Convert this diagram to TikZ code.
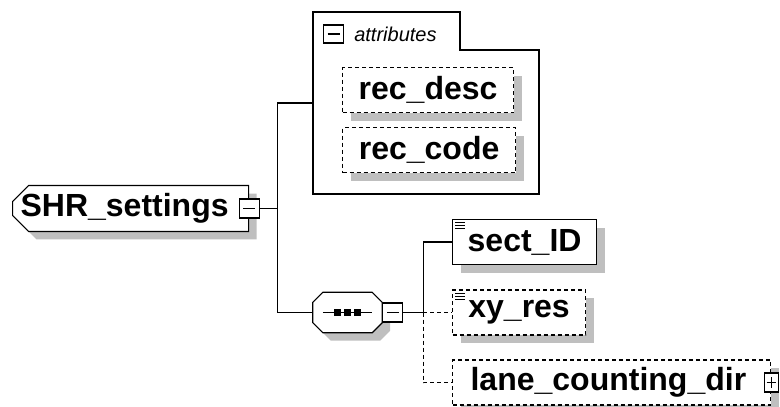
\documentclass[tikz,border=0pt]{standalone}
\usepackage{fontspec}
\setmainfont{Liberation Sans}
\usetikzlibrary{shapes.misc}
\usetikzlibrary{shadows}
\tikzset{boxshadow/.style={drop shadow={shadow xshift=8pt,shadow yshift=-8pt,fill=black!25,opacity=1}}}
\tikzset{elem/.style={draw, line width=1.2pt, fill=white, boxshadow, anchor=west,
	font=\fontsize{32}{38}\selectfont\bfseries, minimum height=45pt, inner sep=0pt}}
\tikzset{optional/.style={dash pattern=on 4pt off 3pt}}
\tikzset{link/.style={line width=1.2pt}}
\tikzset{expander/.style={draw, line width=1.2pt, fill=white, minimum width=20pt, minimum height=19pt, inner sep=0pt,
	path picture={\draw[line width=1.2pt] ([xshift=4pt]path picture bounding box.west) -- ([xshift=-4pt]path picture bounding box.east);}}}
\tikzset{expandplus/.style={draw, line width=1.2pt, fill=white, minimum width=14pt, minimum height=19pt, inner sep=0pt,
	path picture={\draw[line width=1.2pt] ([xshift=2.5pt]path picture bounding box.west) -- ([xshift=-2.5pt]path picture bounding box.east);
		\draw[line width=1.2pt] ([yshift=-4pt]path picture bounding box.north) -- ([yshift=4pt]path picture bounding box.south);}}}

\begin{document}
\begin{tikzpicture}[x=1pt, y=-1pt]
		\useasboundingbox (0,0) rectangle (780,407);

		% Root element
		\node[elem, chamfered rectangle, chamfered rectangle corners={north west,south west},
			chamfered rectangle xsep=8pt, chamfered rectangle ysep=8pt,
			text width=220pt, align=left] (shr) at (12,208.5) {SHR\_settings};
		\node[expander] (shrx) at (shr.east) {};

		% Attribute group
		\draw[link] (313,12) -- (460,12) -- (460,50) -- (539,50) -- (539,194) -- (313,194) -- cycle;
		\coordinate (attrin) at (313,103);
		\node[expander, minimum height=18pt] (attrx) at (333.5,34) {};
		\node[anchor=west, inner sep=0pt, font=\fontsize{20}{24}\selectfont\itshape] (attrlbl) at (attrx.east) [xshift=10pt] {attributes};
		\node[elem, optional, minimum width=171pt] (recdesc) at (342,90) {rec\_desc};
		\node[elem, optional, minimum width=173pt] (reccode) at (342,150) {rec\_code};

		% Sequence
		\node[minimum width=69pt, minimum height=40pt, inner sep=0pt] (seq) at (347.5,312.5) {};
		\draw[link, fill=white, boxshadow] ([xshift=10pt]seq.north west) -- ([xshift=-10pt]seq.north east)
			-- ([yshift=-10pt]seq.north east) -- ([yshift=10pt]seq.south east) -- ([xshift=-10pt]seq.south east)
			-- ([xshift=10pt]seq.south west) -- ([yshift=10pt]seq.south west) -- ([yshift=-10pt]seq.north west) -- cycle;
		\draw[link] ([xshift=10pt]seq.west) -- ([xshift=-10pt]seq.east);
		\foreach \dx in {-10,0,10}{
			\fill ([xshift=\dx pt]seq.center) +(-3.5,-3.5) rectangle +(3.5,3.5);
		}
		\node[expander, anchor=west] (seqx) at (seq.east) {};

		% Children
		\node[elem, minimum width=144pt] (sect) at (452,242) {sect\_ID};
		\node[elem, optional, minimum width=133pt] (xyres) at (452,312.5) {xy\_res};
		\node[elem, optional, text width=282pt, inner xsep=18pt, align=left] (lane) at (452,382.5) {lane\_counting\_dir};
		\node[expandplus] (lanex) at (lane.east) {};
		\foreach \dy in {4,7,10}{
			\draw[line width=1pt] ([xshift=3pt,yshift=-\dy pt]sect.north west) -- ++(10,0);
			\draw[line width=1pt] ([xshift=3pt,yshift=-\dy pt]xyres.north west) -- ++(10,0);
		}

		% Connectors
		\draw[link] (shrx.east) -- ++(18,0) coordinate (fork);
		\draw[link] (attrin) -| (fork) |- (seq.west);
		\draw[link] (seqx.east) -- ++(20,0) coordinate (split);
		\draw[link] (split) |- (sect.west);
		\draw[link, optional] (split) -- (xyres.west);
		\draw[link, optional] (split) |- (lane.west);
	\end{tikzpicture}
\end{document}
